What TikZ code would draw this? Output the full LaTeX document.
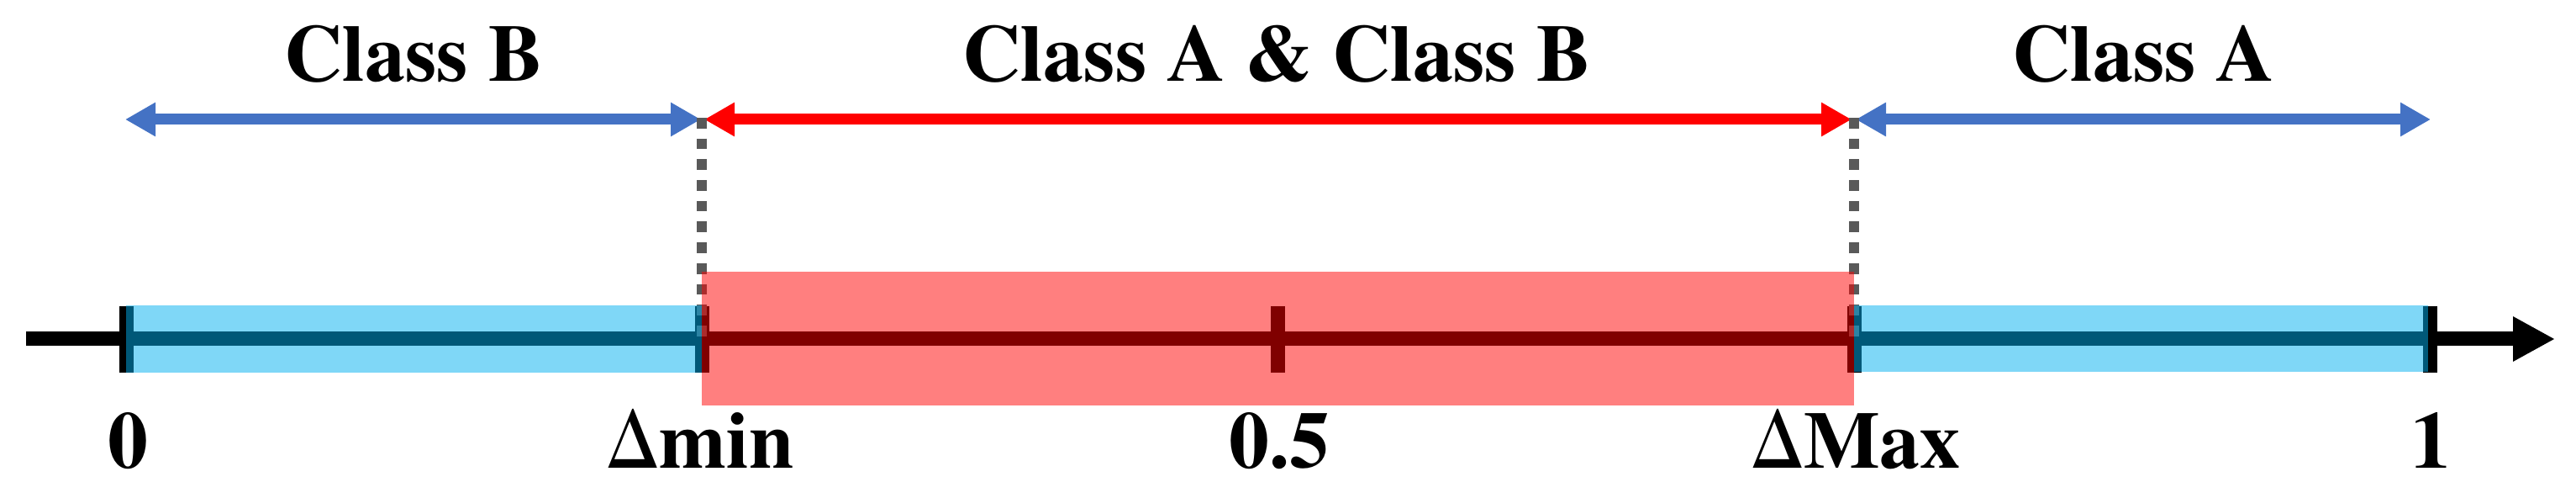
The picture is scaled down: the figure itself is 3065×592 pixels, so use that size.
\documentclass[tikz,border=0pt]{standalone}
\usepackage{fontspec}
\newfontfamily\labelfont{texgyretermes-bold.otf}
\newfontfamily\deltafont{texgyretermes-regular.otf}
\usetikzlibrary{arrows.meta}
\definecolor{lblue}{HTML}{00B0F0}
\definecolor{arrblue}{HTML}{4472C4}
\definecolor{dgray}{HTML}{595959}
\begin{document}
\begin{tikzpicture}[x=0.5pt,y=-0.5pt,
  lbl/.style={font=\labelfont\fontsize{48}{58}\selectfont, inner sep=0pt, anchor=base},
  rng/.style={line width=6.5pt, <->, >={Triangle[length=18pt,width=19pt]}},
  axisline/.style={line width=8.5pt, -{Triangle[length=25pt,width=25pt]}},
  tickmark/.style={line width=8.5pt, black},
  guide/.style={dgray, line width=6.3pt, dash pattern=on 6.35pt off 6pt},
  bandblue/.style={fill=lblue, fill opacity=0.5},
  bandred/.style={fill=red, fill opacity=0.5}]
\useasboundingbox (0,0) rectangle (3065,592);
% axis positions
\coordinate (astart) at (31,403);
\coordinate (aend) at (3040,403);
\coordinate (p0) at (150,403);
\coordinate (pmin) at (835,403);
\coordinate (pmid) at (1520,403);
\coordinate (pmax) at (2206,403);
\coordinate (p1) at (2891,403);
% range arrow ends
\coordinate (bL1) at (149,142);
\coordinate (bL2) at (834,142);
\coordinate (rA) at (838,142);
\coordinate (rB) at (2203,142);
\coordinate (bR1) at (2208,142);
\coordinate (bR2) at (2892,142);
% guide ends
\coordinate (gmin) at (835,140);
\coordinate (gminb) at (835,400);
\coordinate (gmax) at (2206,140);
\coordinate (gmaxb) at (2206,400);
% axis
\draw[axisline] (astart) -- (aend);
% ticks
\draw[tickmark] (150,364) -- (150,443);
\draw[tickmark] (835,364) -- (835,443);
\draw[tickmark] (1520,364) -- (1520,443);
\draw[tickmark] (2206,364) -- (2206,443);
\draw[tickmark] (2891,364) -- (2891,443);
% range arrows
\draw[rng, arrblue] (bL1) -- (bL2);
\draw[rng, red] (rA) -- (rB);
\draw[rng, arrblue] (bR1) -- (bR2);
% guides
\draw[guide] (gmin) -- (gminb);
\draw[guide] (gmax) -- (gmaxb);
% bands
\path[bandblue] (150,363) rectangle (835,443);
\path[bandblue] (2206,363) rectangle (2889,442);
\path[bandred] (835,323) rectangle (2206,482);
% labels
\node[lbl] (lB) at (492,97) {Class B};
\node[lbl] (lAB) at (1519,97) {Class A \& Class B};
\node[lbl] (lA) at (2550,97) {Class A};
\node[lbl] (n0) at (152,556) {0};
\node[lbl] (nmin) at (833,556) {{\deltafont Δ}min};
\node[lbl] (nmid) at (1522,556) {0.5};
\node[lbl] (nmax) at (2208,556) {{\deltafont Δ}Max};
\node[lbl] (n1) at (2892,556) {1};
\end{tikzpicture}
\end{document}
